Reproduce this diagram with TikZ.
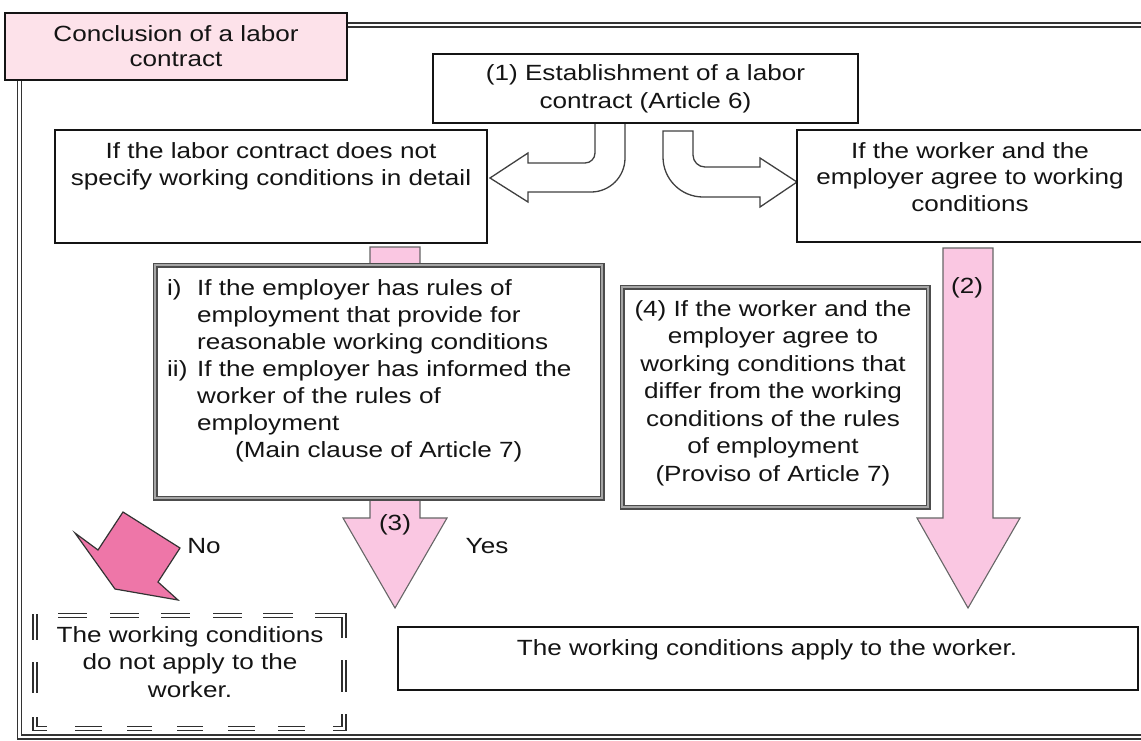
\documentclass[tikz,border=0pt]{standalone}
\usepackage{fontspec}
\setmainfont{Liberation Sans}[FakeStretch=1.186]
\definecolor{titlepink}{RGB}{253,226,234}
\definecolor{arrpink}{RGB}{250,199,226}
\definecolor{nopink}{RGB}{238,118,168}
\newcommand\fstrut{\rule{0pt}{19pt}}
\tikzset{
  mybox/.style={draw=black!92, line width=2.8pt, fill=white, inner sep=0pt, rectangle},
  gbox/.style={draw=black!70, line width=1.9pt, double=black!35, double distance=1.2pt, fill=white, inner sep=0pt, rectangle},
  txt/.style={font=\fontsize{22}{27.4}\selectfont, text=black!92, inner sep=0pt, anchor=north, align=center},
  frameline/.style={draw=black!80, line width=1.6pt, double=white, double distance=2.4pt},
  ddash/.style={draw=black!82, line width=1.6pt, double=white, double distance=2.2pt},
  pinkarrow/.style={fill=arrpink, draw=black!60, line width=1.1pt, line join=miter},
  curvearrow/.style={fill=white, draw=black!75, line width=1.3pt},
  noarrow/.style={fill=nopink, draw=black!80, line width=1.2pt, line join=miter},
}
\begin{document}
\begin{tikzpicture}[x=1pt,y=-1pt]
\useasboundingbox (0,0) rectangle (1141,740);
\clip (0,0) rectangle (1141,740);
% outer frame
\draw[frameline] (340,25) -- (1160,25);
\draw[frameline] (19.5,70) -- (19.5,737) -- (1160,737);
% pink arrows (2) and (3)
\draw[pinkarrow] (370,247) -- (420,247) -- (420,518) -- (447,518) -- (395,608) -- (343,518) -- (370,518) -- cycle;
\draw[pinkarrow] (943,248) -- (993,248) -- (993,518) -- (1020,518) -- (968,608) -- (917,518) -- (943,518) -- cycle;
% curved arrows
\draw[curvearrow] (595,118) -- (595,153) .. controls (595,158.5) and (590.5,163) .. (585,163) -- (528,163) -- (528,153) -- (490,178) -- (528,202) -- (528,192) -- (591,192) .. controls (609.8,192) and (625,176.8) .. (625,158) -- (625,118) -- cycle;
\draw[curvearrow] (663,131) -- (693,131) -- (693,155) .. controls (693,161.6) and (698.4,167) .. (705,167) -- (760,167) -- (760,158) -- (797,182) -- (760,207) -- (760,197) -- (703,197) .. controls (680.9,197) and (663,179.1) .. (663,157) -- cycle;
% boxes
\node[mybox, fill=titlepink, minimum width=342pt, minimum height=67pt] (title) at (176,46.5) {};
\node[mybox, minimum width=425pt, minimum height=69pt] (est) at (645.5,88.5) {};
\node[mybox, minimum width=432pt, minimum height=113pt] (nodetail) at (271,186.5) {};
\node[mybox, minimum width=346pt, minimum height=112pt] (agree) at (970,186) {};
\node[gbox, minimum width=447pt, minimum height=233pt] (rules) at (378.5,381.5) {};
\node[gbox, minimum width=306pt, minimum height=220pt] (differ) at (775,397) {};
\node[mybox, minimum width=740pt, minimum height=63pt] (apply) at (768,658.5) {};
\node[inner sep=0pt, minimum width=309pt, minimum height=113pt] (notapply) at (189.5,672) {};
% No arrow
\draw[noarrow] (123,512) -- (180,548) -- (158,582) -- (178,600) -- (115,589) -- (75,533) -- (98,550) -- cycle;
% dashed double box
\draw[ddash]
  (58,615.5) -- (87,615.5) (110,615.5) -- (139,615.5) (161,615.5) -- (190,615.5)
  (213,615.5) -- (242,615.5) (263,615.5) -- (293,615.5)
  (315,615.5) -- (344,615.5) -- (344,638)
  (344,660) -- (344,692) (344,714) -- (344,728.5) -- (333,728.5)
  (278,728.5) -- (305,728.5) (228,728.5) -- (255,728.5) (177,728.5) -- (203,728.5)
  (127,728.5) -- (152,728.5) (75,728.5) -- (102,728.5)
  (47,728.5) -- (35,728.5) -- (35,717)
  (35,662) -- (35,693) (35,614) -- (35,640);
% texts
\node[txt, font=\fontsize{22}{25}\selectfont] (ttitle) at (176,22) {\fstrut Conclusion of a labor\\contract};
\node[txt, font=\fontsize{22}{28}\selectfont] (test) at (645.5,61) {\fstrut(1) Establishment of a labor\\contract (Article 6)};
\node[txt, font=\fontsize{22}{27}\selectfont] (tnodetail) at (271,139) {\fstrut If the labor contract does not\\specify working conditions in detail};
\node[txt, font=\fontsize{22}{26.5}\selectfont] (tagree) at (970,139) {\fstrut If the worker and the\\employer agree to working\\conditions};
\node[txt, font=\fontsize{22}{27}\selectfont, anchor=north west, align=left] (trules) at (167,276) {\fstrut\makebox[30pt][l]{i)}If the employer has rules of\\\hspace*{30pt}employment that provide for\\\hspace*{30pt}reasonable working conditions\\\makebox[30pt][l]{ii)}If the employer has informed the\\\hspace*{30pt}worker of the rules of\\\hspace*{30pt}employment\\\hspace*{68pt}(Main clause of Article 7)};
\node[txt, font=\fontsize{22}{27.5}\selectfont] (tdiffer) at (773,297) {\fstrut(4) If the worker and the\\employer agree to\\working conditions that\\differ from the working\\conditions of the rules\\of employment\\(Proviso of Article 7)};
\node[txt] (ttwo) at (967,274) {\fstrut(2)};
\node[txt] (tthree) at (395,511) {\fstrut(3)};
\node[txt] (tno) at (204,534) {\fstrut No};
\node[txt] (tyes) at (487,534) {\fstrut Yes};
\node[txt, font=\fontsize{22}{27.5}\selectfont] (tnotapply) at (190,623) {\fstrut The working conditions\\do not apply to the\\worker.};
\node[txt] (tapply) at (767,636) {\fstrut The working conditions apply to the worker.};
\end{tikzpicture}
\end{document}
